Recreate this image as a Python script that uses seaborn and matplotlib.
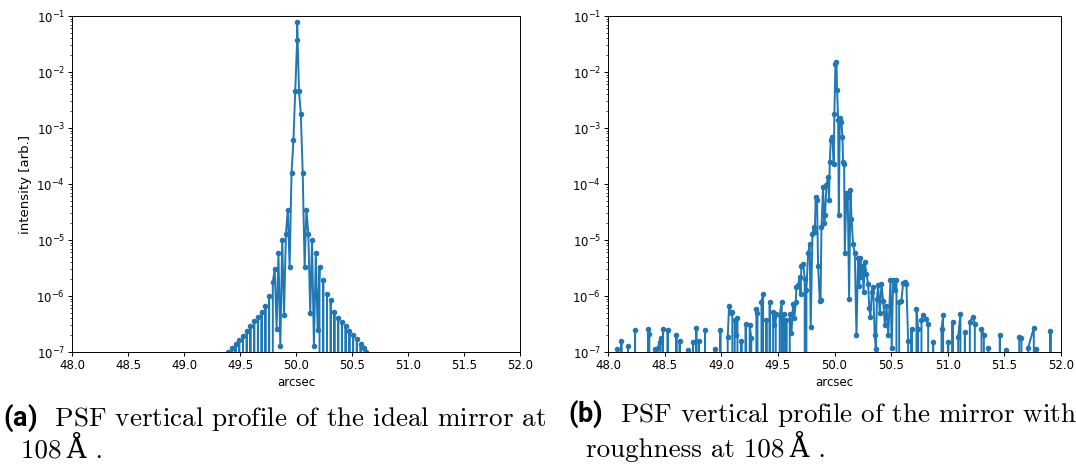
import numpy as np
import pandas as pd
import matplotlib
matplotlib.use('Agg')
from matplotlib import pyplot as plt
import seaborn as sns

# (a) ideal mirror: vertical PSF profile, 0.0 = below the 1e-7 floor of the plot
ideal_arcsec = [49.393, 49.410, 49.427, 49.443, 49.460, 49.477, 49.493, 49.510, 49.527, 49.543,
                49.560, 49.577, 49.593, 49.610, 49.627, 49.643, 49.660, 49.677, 49.693, 49.710,
                49.727, 49.743, 49.760, 49.777, 49.793, 49.810, 49.827, 49.843, 49.860, 49.877,
                49.893, 49.910, 49.927, 49.943, 49.960, 49.977, 49.993, 50.010, 50.010, 50.027,
                50.043, 50.060, 50.077, 50.093, 50.110, 50.127, 50.143, 50.160, 50.177, 50.193,
                50.210, 50.227, 50.243, 50.260, 50.277, 50.293, 50.310, 50.327, 50.343, 50.360,
                50.377, 50.393, 50.410, 50.427, 50.443, 50.460, 50.477, 50.493, 50.510, 50.527,
                50.543, 50.560, 50.577, 50.593, 50.610, 50.627]
ideal_intensity = [1.0e-7, 0.0, 1.2e-7, 0.0, 1.4e-7, 0.0, 1.65e-7, 0.0, 1.95e-7, 0.0,
                   2.4e-7, 0.0, 2.9e-7, 0.0, 3.6e-7, 0.0, 4.3e-7, 0.0, 5.2e-7, 0.0,
                   6.5e-7, 0.0, 1.0e-6, 0.0, 1.8e-6, 3.0e-6, 2.6e-7, 5.8e-6, 1.26e-7, 1.0e-5,
                   4.6e-7, 1.3e-5, 3.5e-5, 3.3e-6, 1.55e-4, 6.0e-4, 4.5e-3, 3.7e-2, 7.9e-2, 4.5e-3,
                   1.8e-3, 1.55e-4, 3.3e-6, 3.5e-5, 1.3e-5, 5.0e-7, 1.0e-5, 1.26e-7, 5.8e-6, 2.5e-7,
                   3.3e-6, 0.0, 1.95e-6, 0.0, 1.1e-6, 0.0, 8.5e-7, 0.0, 5.2e-7, 0.0,
                   4.0e-7, 0.0, 3.5e-7, 0.0, 2.9e-7, 0.0, 2.4e-7, 0.0, 2.0e-7, 0.0,
                   1.7e-7, 0.0, 1.4e-7, 0.0, 1.2e-7, 1.0e-7]

# (b) mirror with roughness
rough_arcsec = [48.060, 48.080, 48.100, 48.118, 48.135, 48.177, 48.200, 48.239, 48.255, 48.340,
                48.353, 48.365, 48.380, 48.412, 48.425, 48.442, 48.455, 48.465, 48.475, 48.486,
                48.500, 48.527, 48.540, 48.604, 48.618, 48.633, 48.645, 48.707, 48.720, 48.751,
                48.765, 48.780, 48.792, 48.804, 48.815, 48.857, 48.870, 48.942, 48.955, 48.992,
                49.005, 49.057, 49.069, 49.084, 49.098, 49.108, 49.119, 49.130, 49.143, 49.155,
                49.178, 49.190, 49.216, 49.230, 49.251, 49.265, 49.280, 49.310, 49.320, 49.335,
                49.355, 49.369, 49.380, 49.399, 49.412, 49.428, 49.440, 49.458, 49.470, 49.481,
                49.495, 49.516, 49.534, 49.545, 49.552, 49.565, 49.575, 49.590, 49.605, 49.620,
                49.634, 49.645, 49.658, 49.664, 49.678, 49.693, 49.700, 49.708, 49.723, 49.737,
                49.745, 49.752, 49.767, 49.781, 49.790, 49.805, 49.817, 49.826, 49.834, 49.846,
                49.855, 49.870, 49.877, 49.885, 49.899, 49.910, 49.917, 49.929, 49.943, 49.952,
                49.958, 49.967, 49.982, 49.993, 49.999, 50.008, 50.017, 50.023, 50.032, 50.038,
                50.047, 50.061, 50.070, 50.076, 50.085, 50.091, 50.105, 50.117, 50.129, 50.141,
                50.150, 50.164, 50.179, 50.194, 50.208, 50.218, 50.229, 50.238, 50.247, 50.257,
                50.267, 50.282, 50.297, 50.307, 50.317, 50.330, 50.341, 50.355, 50.365, 50.375,
                50.385, 50.400, 50.415, 50.429, 50.445, 50.459, 50.475, 50.494, 50.505, 50.518,
                50.532, 50.547, 50.560, 50.571, 50.591, 50.606, 50.621, 50.635, 50.650, 50.665,
                50.680, 50.695, 50.724, 50.738, 50.750, 50.768, 50.783, 50.806, 50.827, 50.840,
                50.871, 50.885, 50.945, 50.959, 50.975, 51.004, 51.020, 51.042, 51.055, 51.092,
                51.112, 51.125, 51.151, 51.165, 51.195, 51.224, 51.239, 51.255, 51.298, 51.319,
                51.335, 51.357, 51.370, 51.460, 51.475, 51.513, 51.525, 51.631, 51.651, 51.665,
                51.710, 51.760, 51.770, 51.778, 51.790, 51.907, 51.920]
rough_intensity = [0.0, 1.15e-7, 0.0, 1.6e-7, 0.0, 1.26e-7, 0.0, 2.5e-7, 0.0, 0.0,
                   2.6e-7, 2.1e-7, 0.0, 1.15e-7, 0.0, 1.2e-7, 1.5e-7, 1.8e-7, 0.0, 2.55e-7,
                   0.0, 2.45e-7, 0.0, 2.0e-7, 0.0, 1.6e-7, 0.0, 1.07e-7, 0.0, 1.5e-7,
                   0.0, 2.7e-7, 0.0, 1.6e-7, 0.0, 2.45e-7, 0.0, 1.15e-7, 0.0, 2.5e-7,
                   0.0, 1.85e-7, 6.6e-7, 5.0e-7, 5.2e-7, 0.0, 3.7e-7, 2.0e-7, 4.0e-7, 0.0,
                   1.6e-7, 0.0, 3.2e-7, 0.0, 3.0e-7, 1.8e-7, 0.0, 5.9e-7, 5.0e-7, 0.0,
                   7.8e-7, 1.1e-6, 0.0, 3.7e-7, 0.0, 7.8e-7, 0.0, 5.2e-7, 3.0e-7, 4.8e-7,
                   0.0, 4.5e-7, 7.8e-7, 0.0, 4.8e-7, 0.0, 3.7e-7, 0.0, 4.8e-7, 2.2e-7,
                   7.2e-7, 4.0e-7, 7.8e-7, 1.45e-6, 1.55e-6, 2.2e-6, 1.1e-6, 3.5e-6, 3.8e-6, 2.05e-6,
                   0.0, 1.26e-6, 5.8e-6, 8.5e-6, 2.8e-7, 1.3e-5, 1.7e-5, 1.4e-5, 5.9e-5, 5.1e-5,
                   3.5e-6, 8.3e-7, 8.5e-7, 1.7e-5, 8.9e-5, 2.0e-5, 2.8e-5, 9.5e-5, 1.33e-4, 5.1e-5,
                   2.45e-4, 6.0e-4, 6.9e-4, 2.3e-4, 1.8e-3, 1.4e-2, 1.5e-2, 4.7e-3, 1.4e-3, 2.8e-5,
                   1.5e-3, 1.3e-3, 6.9e-4, 2.45e-4, 2.3e-4, 5.8e-6, 6.8e-5, 5.9e-5, 8.9e-7, 7.9e-5,
                   2.4e-5, 8.5e-6, 5.8e-6, 2.0e-7, 4.7e-6, 1.5e-6, 4.7e-6, 2.2e-6, 3.5e-6, 1.2e-6,
                   4.1e-6, 2.5e-6, 1.66e-6, 6.0e-7, 4.3e-7, 1.2e-6, 1.45e-6, 2.0e-7, 1.15e-7, 9.0e-7,
                   1.55e-6, 5.0e-7, 1.66e-6, 8.3e-7, 3.0e-7, 6.6e-7, 2.0e-7, 1.9e-6, 1.2e-7, 1.9e-6,
                   1.26e-6, 1.9e-6, 0.0, 7.8e-7, 8.3e-7, 1.7e-6, 1.78e-6, 1.66e-6, 1.6e-7, 0.0,
                   2.6e-7, 0.0, 5.9e-7, 2.6e-7, 0.0, 3.7e-7, 4.5e-7, 3.9e-7, 3.2e-7, 0.0,
                   1.5e-7, 0.0, 2.6e-7, 4.5e-7, 0.0, 1.5e-7, 0.0, 3.5e-7, 0.0, 1.85e-7,
                   4.8e-7, 0.0, 2.3e-7, 0.0, 3.5e-7, 4.3e-7, 3.2e-7, 0.0, 2.6e-7, 2.0e-7,
                   0.0, 1.2e-7, 0.0, 2.0e-7, 0.0, 1.07e-7, 0.0, 1.85e-7, 1.8e-7, 0.0,
                   1.2e-7, 2.7e-7, 0.0, 1.15e-7, 0.0, 2.35e-7, 0.0]

x_ticks = [48.0, 48.5, 49.0, 49.5, 50.0, 50.5, 51.0, 51.5, 52.0]

# caption lines; the bold panel tag goes through mathtext so each caption is one text
caption_a = r"$\mathbf{(a)}$  PSF vertical profile of the ideal mirror at" + "\n" + "  108\u2009Å ."
caption_b = r"$\mathbf{(b)}$  PSF vertical profile of the mirror with" + "\n" + "  roughness at 108\u2009Å ."

ideal = pd.DataFrame({"arcsec": ideal_arcsec, "intensity": ideal_intensity})
rough = pd.DataFrame({"arcsec": rough_arcsec, "intensity": rough_intensity})

plt.rcParams['mathtext.fontset'] = 'custom'
plt.rcParams['mathtext.bf'] = 'Roboto:bold'

fig = plt.figure(figsize=(10.76, 4.66), dpi=100)
ax1 = fig.add_axes([72 / 1076, 114 / 466, 448 / 1076, 336 / 466])
ax2 = fig.add_axes([608 / 1076, 114 / 466, 453 / 1076, 336 / 466])

for ax, df in [(ax1, ideal), (ax2, rough)]:
    sns.lineplot(data=df, x="arcsec", y="intensity", ax=ax, estimator=None, sort=False,
                 color="#1f77b4", linewidth=1.4, marker="o", markersize=4,
                 markeredgewidth=0, legend=False)
    ax.set_yscale("log")
    ax.set_ylim(1e-7, 1e-1)
    ax.set_xlim(48, 52)
    ax.set_xticks(x_ticks)
    ax.set_xticklabels([f"{t:.1f}" for t in x_ticks])
    ax.set_xlabel("arcsec", fontsize=8.5, labelpad=3)
    ax.set_ylabel("")
    ax.tick_params(which="major", length=3, width=0.7, labelsize=8.5, pad=2)
    ax.tick_params(which="minor", length=1.7, width=0.5)
    for s in ax.spines.values():
        s.set_linewidth(0.7)

ax1.set_ylabel("intensity [arb.]", fontsize=9.5, labelpad=3)

serif = ['cmr10', 'DejaVu Serif']
fig.text(3 / 1076, 9 / 466, caption_a, fontsize=19.5, family=serif, va="baseline",
         linespacing=1.05)
fig.text(568 / 1076, 9 / 466, caption_b, fontsize=19.5, family=serif, va="baseline",
         linespacing=1.05)

fig.savefig("out.png", dpi=100)
